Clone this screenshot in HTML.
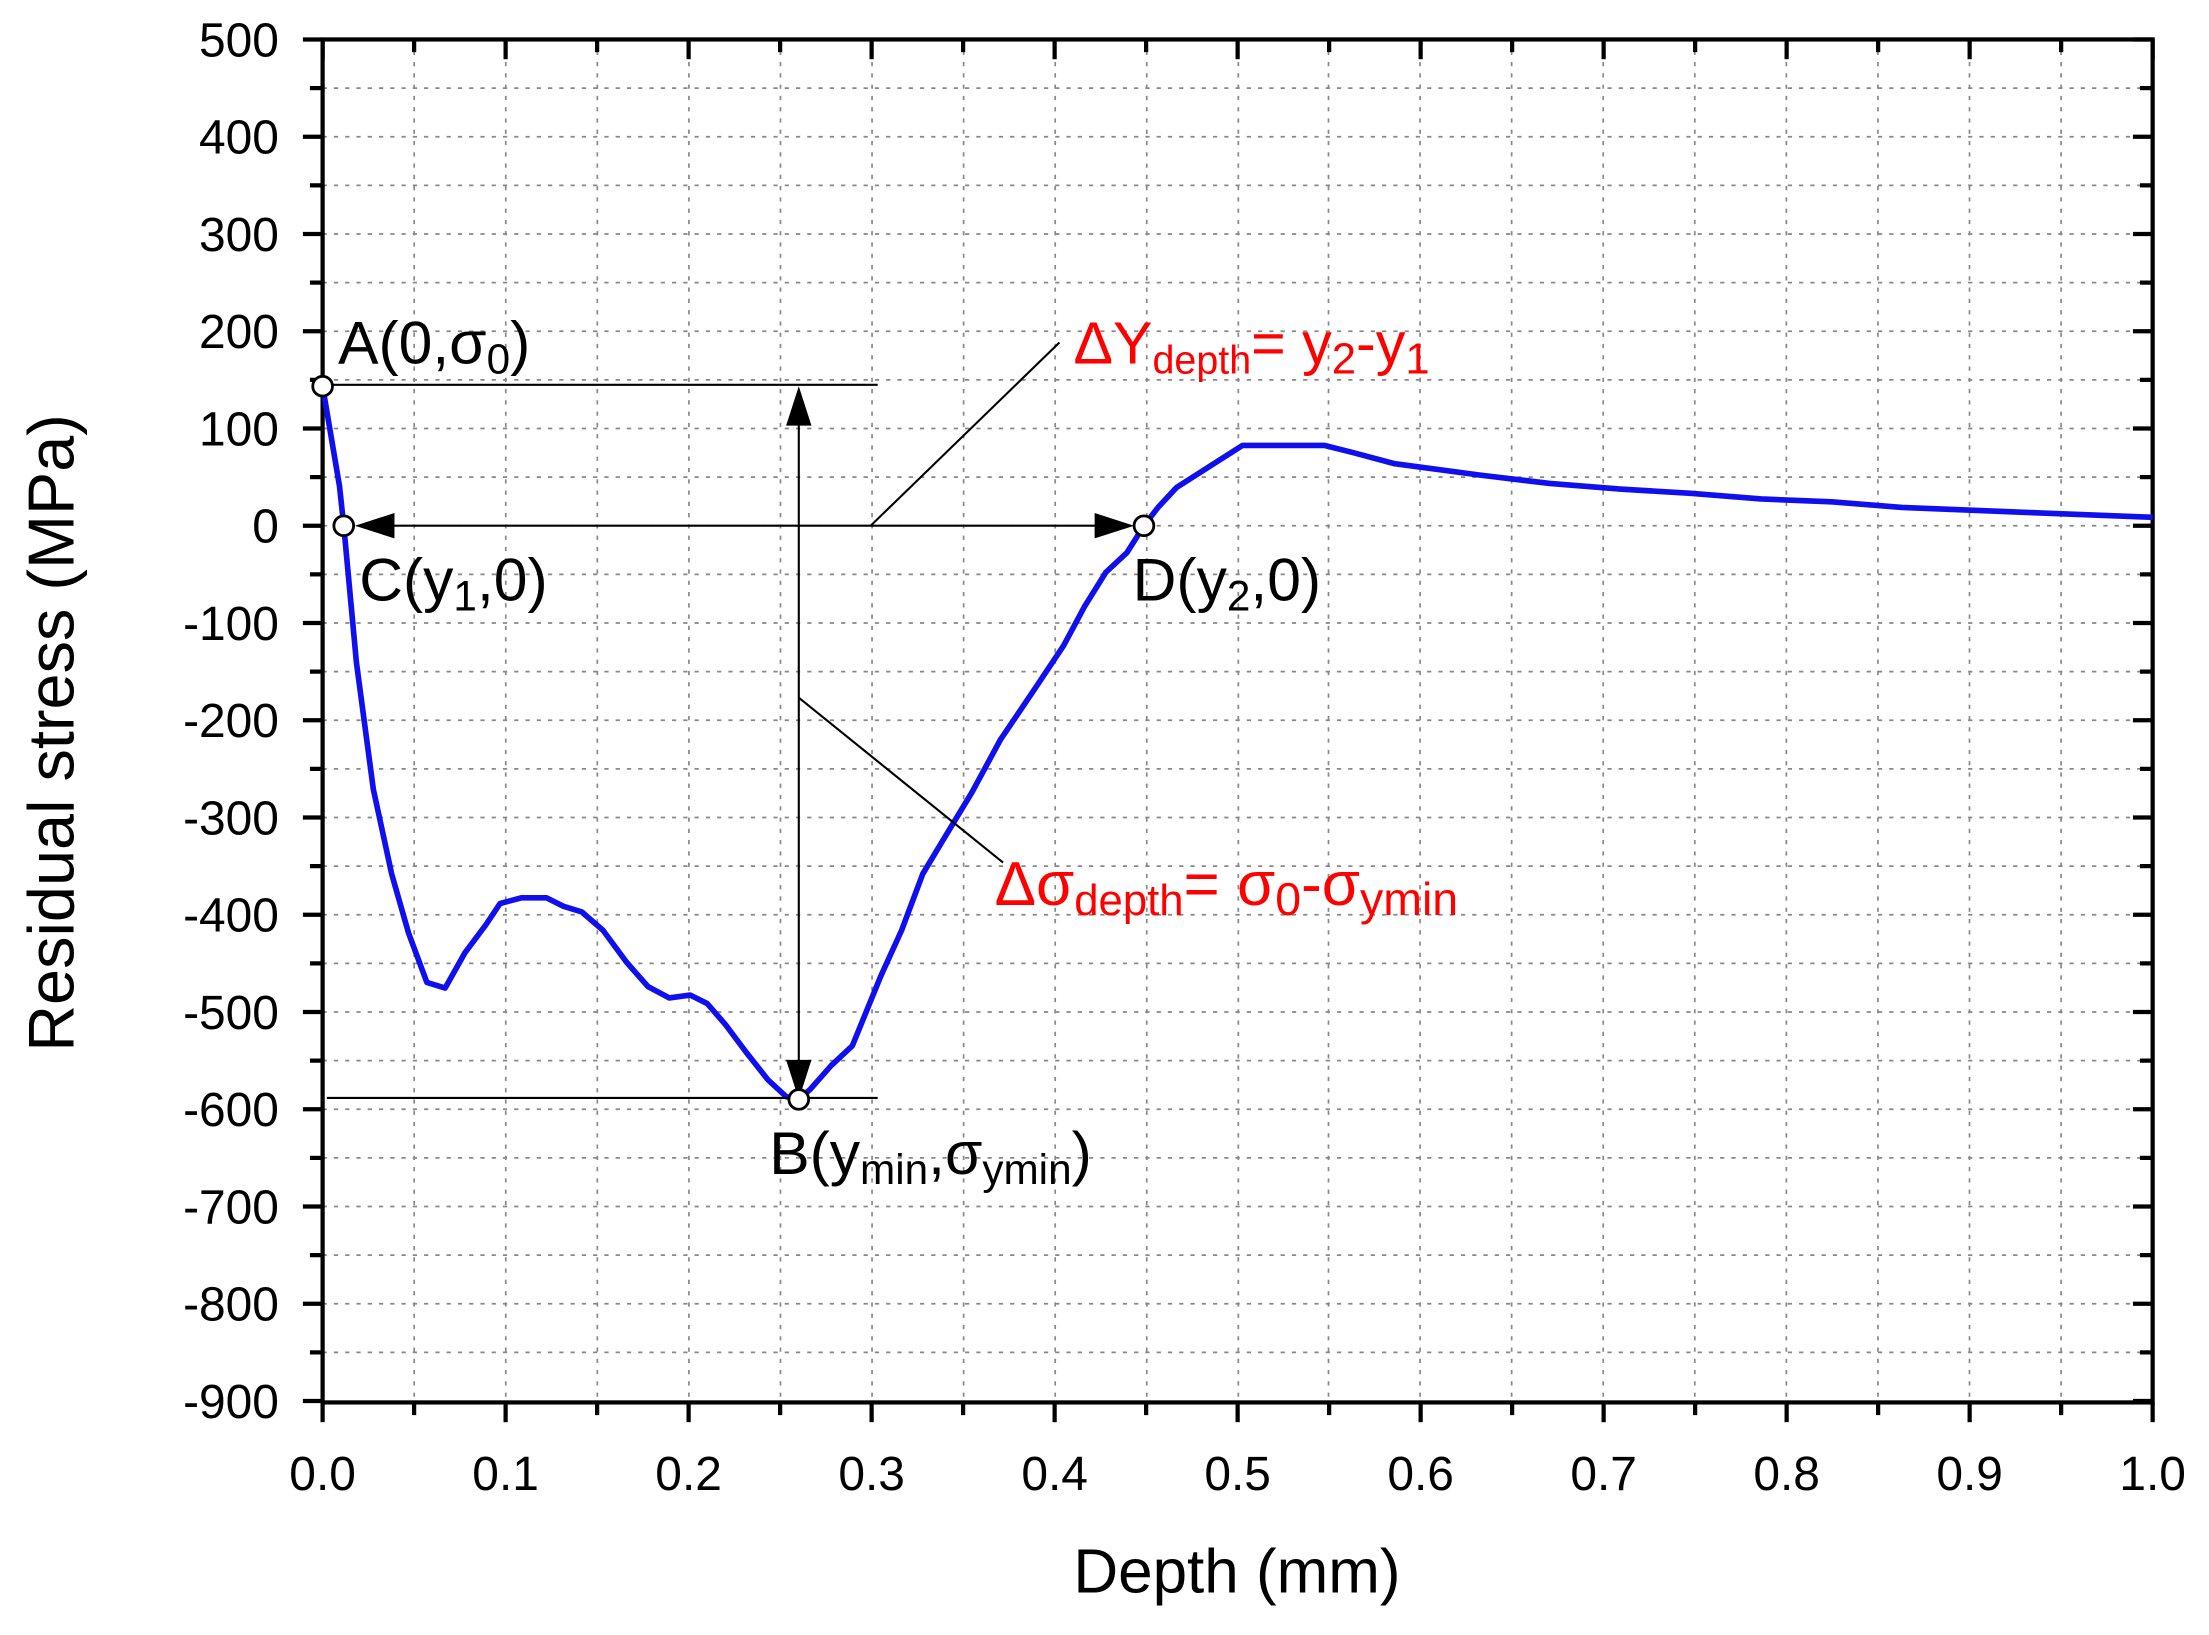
<!DOCTYPE html>
<html><head><meta charset="utf-8"><style>
html,body{margin:0;padding:0;background:#fff;}
svg{display:block;}
text{font-family:"Liberation Sans",Arial,sans-serif;}
</style></head><body>
<svg width="2209" height="1635" viewBox="0 0 1568 1160" preserveAspectRatio="none" xmlns="http://www.w3.org/2000/svg">
<rect width="1568" height="1160" fill="#fff"/>
<g stroke="#888" stroke-width="1.2" stroke-dasharray="3,5">
<line x1="294" y1="28" x2="294" y2="995"/><line x1="359" y1="28" x2="359" y2="995"/><line x1="424" y1="28" x2="424" y2="995"/><line x1="489" y1="28" x2="489" y2="995"/><line x1="554" y1="28" x2="554" y2="995"/><line x1="619" y1="28" x2="619" y2="995"/><line x1="684" y1="28" x2="684" y2="995"/><line x1="749" y1="28" x2="749" y2="995"/><line x1="814" y1="28" x2="814" y2="995"/><line x1="879" y1="28" x2="879" y2="995"/><line x1="943" y1="28" x2="943" y2="995"/><line x1="1008" y1="28" x2="1008" y2="995"/><line x1="1073" y1="28" x2="1073" y2="995"/><line x1="1138" y1="28" x2="1138" y2="995"/><line x1="1203" y1="28" x2="1203" y2="995"/><line x1="1268" y1="28" x2="1268" y2="995"/><line x1="1333" y1="28" x2="1333" y2="995"/><line x1="1398" y1="28" x2="1398" y2="995"/><line x1="1463" y1="28" x2="1463" y2="995"/>
</g>
<g id="hg" stroke="#888" stroke-width="1.2" stroke-dasharray="3,5"></g>
<g id="ticks" stroke="#000" stroke-width="3"></g>
<rect x="229" y="28" width="1299" height="967" fill="none" stroke="#000" stroke-width="3"/>
<g id="labels" font-size="34" fill="#000"></g>
<polyline fill="none" stroke="#1010ee" stroke-width="4" stroke-linejoin="round" points="229,274 241,345 244,373 253,470 265,560 278,620 290,662 303,697 316,701 330,676 345,656 355,641 370,637 388,637 400,643 413,647 428,660 445,683 460,700 475,708 490,706 502,712 515,727 530,747 545,766 558,778 567,780 575,773 590,756 605,742 625,693 640,660 655,620 670,595 690,562 710,525 735,488 755,458 770,430 785,406 800,392 812,373 822,360 835,346 860,330 882,316 940,316 960,321 990,329 1050,337 1100,343 1150,347 1200,350 1250,354 1300,356 1350,360 1450,364 1528,367"/>
<g stroke="#000" stroke-width="1.5" fill="none">
<line x1="229" y1="273" x2="623" y2="273"/>
<line x1="232" y1="779" x2="623" y2="779"/>
<line x1="567" y1="296" x2="567" y2="758"/>
<line x1="270" y1="373" x2="790" y2="373"/>
<line x1="618" y1="373" x2="752" y2="243"/>
<line x1="567" y1="495" x2="712" y2="612"/>
</g>
<g fill="#000">
<polygon points="567,274 558,302 576,302"/>
<polygon points="567,780 558,752 576,752"/>
<polygon points="252,373 280,364 280,382"/>
<polygon points="805,373 777,364 777,382"/>
</g>
<g fill="#fff" stroke="#000" stroke-width="2">
<circle cx="229" cy="274" r="7"/><circle cx="244" cy="373" r="7"/><circle cx="812" cy="373" r="7"/><circle cx="567" cy="780" r="7"/>
</g>
<g font-size="43" fill="#000">
<text x="240" y="258">A(0,σ<tspan font-size="30" dy="7">0</tspan><tspan dy="-7">)</tspan></text>
<text x="255" y="426">C(y<tspan font-size="30" dy="7">1</tspan><tspan dy="-7">,0)</tspan></text>
<text x="804" y="426">D(y<tspan font-size="30" dy="7">2</tspan><tspan dy="-7">,0)</tspan></text>
<text x="546" y="833">B(y<tspan font-size="30" dy="7">min</tspan><tspan dy="-7">,σ</tspan><tspan font-size="30" dy="7">ymin</tspan><tspan dy="-7">)</tspan></text>
</g>
<g font-size="42" fill="#ff0000">
<text x="762" y="258">ΔY<tspan font-size="28" dy="7">depth</tspan><tspan dy="-7">= y</tspan><tspan font-size="31" dy="7">2</tspan><tspan dy="-7">-y</tspan><tspan font-size="31" dy="7">1</tspan></text>
<text x="706" y="642" font-size="44">Δσ<tspan font-size="31" dy="7">depth</tspan><tspan dy="-7">= σ</tspan><tspan font-size="33" dy="7">0</tspan><tspan dy="-7">-σ</tspan><tspan font-size="33" dy="7">ymin</tspan></text>
</g>
<text x="878" y="1130" font-size="44" text-anchor="middle">Depth (mm)</text>
<text transform="translate(52,520) rotate(-90)" font-size="46" text-anchor="middle">Residual stress (MPa)</text>
<script>
var ns="http://www.w3.org/2000/svg";
function el(p,t,a,tx){var e=document.createElementNS(ns,t);for(var k in a)e.setAttribute(k,a[k]);if(tx!==undefined)e.textContent=tx;p.appendChild(e);}
var hg=document.getElementById('hg'),tk=document.getElementById('ticks'),lb=document.getElementById('labels');
for(var v=450;v>-900;v-=50){var y=373-0.69*v;el(hg,'line',{x1:229,x2:1528,y1:y,y2:y});}
for(var v=500;v>=-900;v-=50){var y=373-0.69*v;var maj=(v%100===0);var L=maj?14:9;
el(tk,'line',{x1:229-L,x2:229,y1:y,y2:y});el(tk,'line',{x1:1528-L,x2:1528,y1:y,y2:y});
if(maj)el(lb,'text',{x:198,y:y+12,'text-anchor':'end'},String(v));}
for(var i=0;i<=20;i++){var x=229+1299*i/20;var maj=(i%2===0);var L=maj?14:9;
el(tk,'line',{x1:x,x2:x,y1:995,y2:995+L});el(tk,'line',{x1:x,x2:x,y1:28,y2:28+L});
if(maj)el(lb,'text',{x:x,y:1057,'text-anchor':'middle'},(i/20).toFixed(1));}
</script>
</svg>
</body></html>
